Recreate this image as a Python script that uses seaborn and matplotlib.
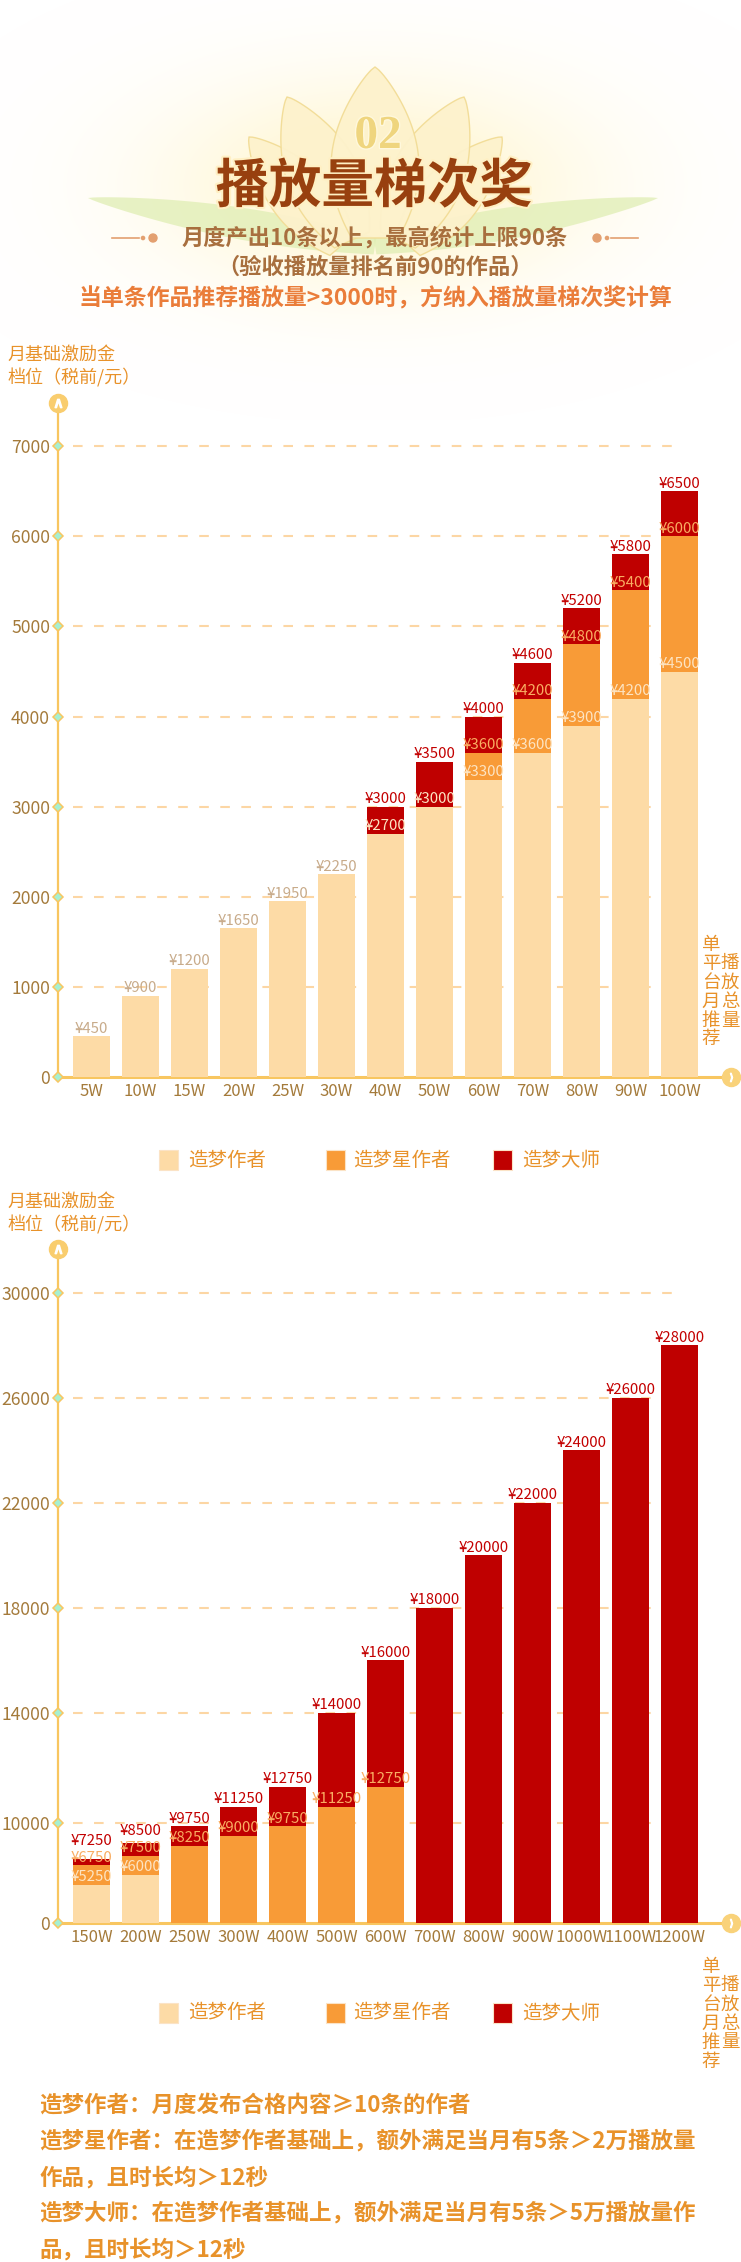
"""
Playback tier reward chart (播放量梯次奖), two overlapping-bar panels.
"""

# %% Imports
import numpy as np
import pandas as pd
import matplotlib

matplotlib.use("Agg")
from matplotlib import pyplot as plt
from matplotlib import patheffects as pe
from matplotlib.patches import Rectangle, Polygon, Circle
import seaborn as sns

# %% Global Variables
W, H = 741, 2262

SERIES_NAMES = ["造梦作者", "造梦星作者", "造梦大师"]
SERIES_COLORS = ["#fddba6", "#f89b37", "#bf0000"]

# panel 1: 5W - 100W
TIERS_1 = ["5W", "10W", "15W", "20W", "25W", "30W", "40W", "50W", "60W", "70W", "80W", "90W", "100W"]
AUTHOR_1 = [450, 900, 1200, 1650, 1950, 2250, 2700, 3000, 3300, 3600, 3900, 4200, 4500]
STAR_1 = [np.nan] * 8 + [3600, 4200, 4800, 5400, 6000]
MASTER_1 = [np.nan] * 6 + [3000, 3500, 4000, 4600, 5200, 5800, 6500]
YTICKS_1 = [0, 1000, 2000, 3000, 4000, 5000, 6000, 7000]

# panel 2: 150W - 1200W
TIERS_2 = ["150W", "200W", "250W", "300W", "400W", "500W", "600W", "700W", "800W", "900W", "1000W", "1100W", "1200W"]
AUTHOR_2 = [5250, 6000] + [np.nan] * 11
STAR_2 = [6750, 7500, 8250, 9000, 9750, 11250, 12750] + [np.nan] * 6
MASTER_2 = [7250, 8500, 9750, 11250, 12750, 14000, 16000, 18000, 20000, 22000, 24000, 26000, 28000]
YTICKS_2 = [0, 10000, 14000, 18000, 22000, 26000, 30000]

# broken value axis of panel 2 (value -> tick step)
BREAK_VALUES = [0, 5250, 12750, 14000, 30000, 40000]
BREAK_STEPS = [0, 0.362, 1.295, 2.0, 6.0, 8.5]

NOTES = [
    "造梦作者：月度发布合格内容≥10条的作者",
    "造梦星作者：在造梦作者基础上，额外满足当月有5条＞2万播放量",
    "作品，且时长均＞12秒",
    "造梦大师：在造梦作者基础上，额外满足当月有5条＞5万播放量作",
    "品，且时长均＞12秒",
]

ORANGE_TXT = "#e8922a"
TICK_BROWN = "#a47a3a"
AXIS_YELLOW = "#f8c660"

plt.rcParams["font.family"] = ["Noto Sans CJK SC", "DejaVu Sans"]


def fx(x):
    return x / W


def fy(y):
    return 1 - y / H


def fwd(v):
    return np.interp(v, BREAK_VALUES, BREAK_STEPS)


def inv(t):
    return np.interp(t, BREAK_STEPS, BREAK_VALUES)


# %% Plotting Functions


def leaf(ax, base, tip, half_width, **kw):
    t = np.linspace(0, 1, 60)
    bx, by = base
    tx, ty = tip
    dx, dy = tx - bx, ty - by
    length = np.hypot(dx, dy)
    ux, uy = dx / length, dy / length
    nx, ny = -uy, ux
    w = half_width * np.sin(np.pi * np.clip(t * 0.85 + 0.15, 0, 1)) ** 0.8
    cx, cy = bx + dx * t, by + dy * t
    pts = np.concatenate(
        [np.column_stack([cx + nx * w, cy + ny * w]), np.column_stack([cx - nx * w, cy - ny * w])[::-1]]
    )
    ax.add_patch(Polygon(pts, closed=True, **kw))


def draw_header(fig):
    bg = fig.add_axes([0, fy(420), 1, 420 / H], zorder=-1)
    bg.set_xlim(0, W)
    bg.set_ylim(420, 0)
    bg.axis("off")
    yy, xx = np.mgrid[0:420, 0:W]
    r2 = ((xx - 375) / 270) ** 2 + ((yy - 185) / 135) ** 2
    img = np.ones((420, W, 4))
    img[..., 1] = 0.955
    img[..., 2] = 0.76
    img[..., 3] = 0.8 * np.exp(-1.7 * r2)
    bg.imshow(img, extent=(0, W, 420, 0), aspect="auto", zorder=0)
    # green swooshes
    leaf(bg, (375, 246), (88, 198), 16, facecolor="#e0eeb4", edgecolor="none", alpha=0.75, zorder=1)
    leaf(bg, (375, 246), (658, 198), 16, facecolor="#e0eeb4", edgecolor="none", alpha=0.75, zorder=1)
    # lotus petals
    petal_kw = dict(facecolor="#fdf2cc", edgecolor="#f2dc96", lw=1, alpha=0.95, zorder=2)
    leaf(bg, (342, 245), (249, 137), 30, **petal_kw)
    leaf(bg, (408, 245), (502, 137), 30, **petal_kw)
    leaf(bg, (352, 240), (287, 97), 36, **petal_kw)
    leaf(bg, (398, 240), (464, 97), 36, **petal_kw)
    leaf(bg, (375, 238), (375, 67), 44, **petal_kw)
    bg.text(378, 137, "02", ha="center", va="center", fontsize=34, fontweight="bold",
            family="Liberation Serif", color="#efd57e", zorder=3,
            path_effects=[pe.withStroke(linewidth=2, foreground="#fff8dc")])
    bg.text(374, 187, "播放量梯次奖", ha="center", va="center", fontsize=38, fontweight="bold",
            color="#98400f", zorder=4, path_effects=[pe.withStroke(linewidth=3, foreground="#fff0c4")])
    bg.text(375, 238, "月度产出10条以上，最高统计上限90条", ha="center", va="center", fontsize=16,
            fontweight="bold", color="#a86f3e", zorder=4)
    bg.text(375, 267, "（验收播放量排名前90的作品）", ha="center", va="center", fontsize=16,
            fontweight="bold", color="#a86f3e", zorder=4)
    bg.text(375, 299, "当单条作品推荐播放量>3000时，方纳入播放量梯次奖计算", ha="center", va="center",
            fontsize=16.5, fontweight="bold", color="#ea7d3a", zorder=4)
    # little ornaments around the first sub line
    deco = "#e3a070"
    bg.plot([112, 139], [238, 238], color=deco, lw=1.2, zorder=4)
    bg.plot([611, 638], [238, 238], color=deco, lw=1.2, zorder=4)
    for x, rad in [(143, 1.6), (153, 4), (597, 4), (607, 1.6)]:
        bg.add_patch(Circle((x, 238), rad, color=deco, zorder=4))


def draw_panel(fig, top_px, bottom_px, tiers, author, star, master, yticks, ytop, broken=False):
    ax = fig.add_axes([fx(57.7), fy(bottom_px), (731 - 57.7) / W, (bottom_px - top_px) / H])
    df = pd.DataFrame({"tier": tiers, SERIES_NAMES[0]: author, SERIES_NAMES[1]: star, SERIES_NAMES[2]: master})
    long_df = df.melt(id_vars="tier", var_name="level", value_name="amount").dropna()
    # tallest level at the back, base level in front
    for level, color in zip(SERIES_NAMES[::-1], SERIES_COLORS[::-1]):
        sns.barplot(
            long_df[long_df.level == level],
            x="tier",
            y="amount",
            order=tiers,
            color=color,
            saturation=1,
            width=0.755,
            errorbar=None,
            linewidth=0,
            zorder=3,
            ax=ax,
        )
    if broken:
        ax.set_yscale("function", functions=(fwd, inv))
    ax.set_xlim(-0.69, 13.05)
    ax.set_ylim(0, ytop)
    ax.set_yticks(yticks)
    ax.set_yticklabels([str(t) for t in yticks])
    ax.minorticks_off()
    ax.set_xlabel("")
    ax.set_ylabel("")
    ax.set_facecolor("none")
    ax.spines[["top", "right"]].set_visible(False)
    ax.spines["left"].set_color(AXIS_YELLOW)
    ax.spines["left"].set_linewidth(1.6)
    ax.spines["bottom"].set_color(AXIS_YELLOW)
    ax.spines["bottom"].set_linewidth(2.2)
    ax.tick_params(axis="y", length=0, pad=5.5, labelsize=12.6, labelcolor=TICK_BROWN)
    ax.tick_params(axis="x", length=0, pad=4, labelsize=12, labelcolor=TICK_BROWN)
    for t in yticks[1:]:
        ax.axhline(t, xmin=0.0227, xmax=0.914, color="#fcd6a4", lw=1.5, ls=(0, (4.6, 5.5)), zorder=1)
    # diamond tick marks on the value axis
    ax.plot([0] * len(yticks), yticks, ls="none", marker="D", ms=5, mfc="#a6efd2", mec=AXIS_YELLOW,
            mew=1.1, transform=ax.get_yaxis_transform(), clip_on=False, zorder=6)
    # axis end caps
    ax.plot(0, 1, marker="o", ms=13, color="#f9cd6e", transform=ax.transAxes, clip_on=False, zorder=6)
    ax.plot(0, 1, marker="$\\wedge$", ms=6, color="white", transform=ax.transAxes, clip_on=False, zorder=7)
    ax.plot(1, 0, marker="o", ms=13, color="#f9d27a", transform=ax.transAxes, clip_on=False, zorder=6)
    ax.plot(1, 0, marker="$\\rangle$", ms=6, color="white", transform=ax.transAxes, clip_on=False, zorder=7)
    # value labels, pushed up where the steps are too close to read
    px_to_pt = 72 / fig.dpi
    for i in range(len(tiers)):
        vals = [author[i], star[i], master[i]]
        top = np.nanmax(vals)
        last_px = None
        for k, v in enumerate(vals):
            if np.isnan(v):
                continue
            if k == 2:
                c = "#c30000"
            elif k == 1:
                c = "#f9ad62" if v < top else "#f08a2a"
            else:
                c = "#fde4c2" if v < top else "#c8ab8a"
            bar_px = ax.transData.transform((i, v))[1]
            lab_px = bar_px + 0.7
            if last_px is not None:
                lab_px = max(lab_px, last_px + 17)
            last_px = lab_px
            ax.annotate(f"¥{int(v)}", (i, v), xytext=(0, (lab_px - bar_px) * px_to_pt), textcoords="offset points",
                        ha="center", va="bottom", color=c, fontsize=10.8, zorder=5, annotation_clip=False)
    return ax


def draw_side_text(fig, y_left, y_right):
    for ch, y in zip("单平台月推荐", y_left):
        fig.text(fx(711), fy(y), ch, ha="center", va="center", fontsize=13.3, color=ORANGE_TXT)
    for ch, y in zip("播放总量", y_right):
        fig.text(fx(730), fy(y), ch, ha="center", va="center", fontsize=13.3, color=ORANGE_TXT)


def draw_ylabel(fig, y1, y2):
    fig.text(fx(7), fy(y1), "月基础激励金", ha="left", va="center", fontsize=13, color=ORANGE_TXT)
    fig.text(fx(7), fy(y2), "档位（税前/元）", ha="left", va="center", fontsize=13, color=ORANGE_TXT)


def draw_legend(fig, y_px):
    for name, color, x_sq, x_tx in zip(SERIES_NAMES, SERIES_COLORS, [159, 326, 493], [188, 353, 522]):
        fig.add_artist(Rectangle((fx(x_sq), fy(y_px + 10)), 19 / W, 20 / H, transform=fig.transFigure,
                                 facecolor=color, edgecolor="#fbe3c6", lw=0.8))
        fig.text(fx(x_tx), fy(y_px), name, ha="left", va="center", fontsize=14, color=ORANGE_TXT)


# %% Main
fig = plt.figure(figsize=(W / 100, H / 100), dpi=100)
fig.patch.set_facecolor("white")

draw_header(fig)

draw_ylabel(fig, 355, 378)
draw_panel(fig, 403, 1077, TIERS_1, AUTHOR_1, STAR_1, MASTER_1, YTICKS_1, 7480)
draw_side_text(fig, [945, 964, 983, 1002, 1021, 1039], [963, 983, 1002, 1021])
draw_legend(fig, 1160)

draw_ylabel(fig, 1202, 1225)
draw_panel(fig, 1249, 1923, TIERS_2, AUTHOR_2, STAR_2, MASTER_2, YTICKS_2, float(inv(6.419)), broken=True)
draw_side_text(fig, [1967, 1986, 2005, 2024, 2043, 2062], [1985, 2005, 2024, 2042])
draw_legend(fig, 2013)

for line, y in zip(NOTES, [2105, 2141, 2178, 2213, 2250]):
    fig.text(fx(39), fy(y), line, ha="left", va="center", fontsize=16.2, fontweight="bold", color=ORANGE_TXT)

fig.savefig("out.png", dpi=100)
